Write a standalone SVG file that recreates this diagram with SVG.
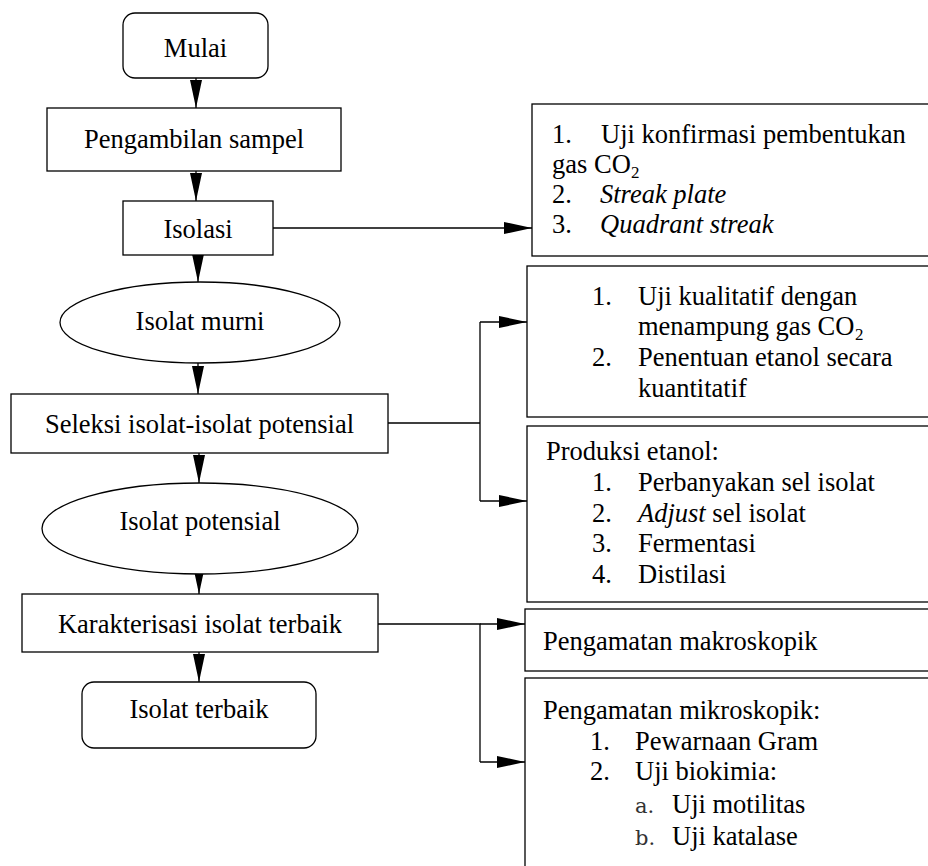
<svg xmlns="http://www.w3.org/2000/svg" width="928" height="866" viewBox="0 0 928 866" font-family="Liberation Serif, Times New Roman, serif">
<style>
  .bx{fill:#fff;stroke:#000;stroke-width:1.3}
  .ln{fill:none;stroke:#000;stroke-width:1.3}
  text{font-size:26.5px;fill:#000}
  .c{text-anchor:middle}
  .it{font-style:italic}
  .sub{font-size:17px}
  .ab{font-size:21px;fill:#333}
</style>
<defs>
  <marker id="ah" markerUnits="userSpaceOnUse" markerWidth="28" markerHeight="12" refX="28" refY="6" orient="auto">
    <path d="M0,0 L28,6 L0,12 Z" fill="#000"/>
  </marker>
</defs>
<g id="connectors">
  <path class="ln" d="M196,78 V108" marker-end="url(#ah)"/>
  <path class="ln" d="M196,171 V201" marker-end="url(#ah)"/>
  <path class="ln" d="M198,255 V282" marker-end="url(#ah)"/>
  <path class="ln" d="M198,363 V394" marker-end="url(#ah)"/>
  <path class="ln" d="M199,453 V483" marker-end="url(#ah)"/>
  <path class="ln" d="M199,566 V594" marker-end="url(#ah)"/>
  <path class="ln" d="M199,652 V682" marker-end="url(#ah)"/>
  <path class="ln" d="M273,228 H532" marker-end="url(#ah)"/>
  <path class="ln" d="M388,423 H480 M480,322 V501"/>
  <path class="ln" d="M480,322 H527" marker-end="url(#ah)"/>
  <path class="ln" d="M480,501 H527" marker-end="url(#ah)"/>
  <path class="ln" d="M378,624 H480 V762"/>
  <path class="ln" d="M480,624 H525" marker-end="url(#ah)"/>
  <path class="ln" d="M480,762 H525" marker-end="url(#ah)"/>
</g>
<g id="mulai">
  <rect class="bx" x="123" y="13" width="145" height="65" rx="12"/>
  <text class="c" x="195.5" y="57">Mulai</text>
</g>
<g id="pengambilan">
  <rect class="bx" x="47" y="108" width="294" height="63"/>
  <text class="c" x="194" y="148">Pengambilan sampel</text>
</g>
<g id="isolasi">
  <rect class="bx" x="123" y="201" width="150" height="54"/>
  <text class="c" x="198" y="238">Isolasi</text>
</g>
<g id="isolat-murni">
  <ellipse class="bx" cx="200" cy="322.5" rx="140" ry="40.5"/>
  <text class="c" x="200" y="330">Isolat murni</text>
</g>
<g id="seleksi">
  <rect class="bx" x="11" y="394" width="377" height="59"/>
  <text class="c" x="199.5" y="433">Seleksi isolat-isolat potensial</text>
</g>
<g id="isolat-potensial">
  <ellipse class="bx" cx="200" cy="528.5" rx="158" ry="45.5"/>
  <text class="c" x="200" y="530">Isolat potensial</text>
</g>
<g id="karakterisasi">
  <rect class="bx" x="22" y="594" width="356" height="58"/>
  <text class="c" x="200" y="633">Karakterisasi isolat terbaik</text>
</g>
<g id="isolat-terbaik">
  <rect class="bx" x="82" y="682" width="234" height="66" rx="12"/>
  <text class="c" x="199" y="718">Isolat terbaik</text>
</g>
<g id="isolasi-methods">
  <rect class="bx" x="532" y="104" width="410" height="152"/>
  <text x="552" y="143">1.</text><text x="601" y="143">Uji konfirmasi pembentukan</text>
  <text x="552" y="173">gas CO</text><text class="sub" x="631" y="178">2</text>
  <text x="552" y="203">2.</text><text class="it" x="600" y="203">Streak plate</text>
  <text x="552" y="233">3.</text><text class="it" x="600" y="233">Quadrant streak</text>
</g>
<g id="seleksi-uji">
  <rect class="bx" x="527" y="266" width="415" height="151"/>
  <text x="592" y="305">1.</text><text x="638" y="305">Uji kualitatif dengan</text>
  <text x="638" y="335">menampung gas CO</text><text class="sub" x="855" y="340">2</text>
  <text x="592" y="366">2.</text><text x="638" y="366">Penentuan etanol secara</text>
  <text x="638" y="397">kuantitatif</text>
</g>
<g id="produksi-etanol">
  <rect class="bx" x="527" y="426" width="415" height="176"/>
  <text x="546" y="460">Produksi etanol:</text>
  <text x="592" y="491">1.</text><text x="638" y="491">Perbanyakan sel isolat</text>
  <text x="592" y="522">2.</text><text x="638" y="522"><tspan class="it">Adjust</tspan> sel isolat</text>
  <text x="592" y="552">3.</text><text x="638" y="552">Fermentasi</text>
  <text x="592" y="583">4.</text><text x="638" y="583">Distilasi</text>
</g>
<g id="makroskopik">
  <rect class="bx" x="525" y="609" width="417" height="62"/>
  <text x="543" y="650">Pengamatan makroskopik</text>
</g>
<g id="mikroskopik">
  <rect class="bx" x="525" y="678" width="417" height="200"/>
  <text x="543" y="719">Pengamatan mikroskopik:</text>
  <text x="590" y="750">1.</text><text x="635" y="750">Pewarnaan Gram</text>
  <text x="590" y="780">2.</text><text x="635" y="780">Uji biokimia:</text>
  <text class="ab" x="635" y="813" font-family="DejaVu Serif, serif">a.</text><text x="672" y="813">Uji motilitas</text>
  <text class="ab" x="635" y="845" font-family="DejaVu Serif, serif">b.</text><text x="672" y="845">Uji katalase</text>
</g>
</svg>
